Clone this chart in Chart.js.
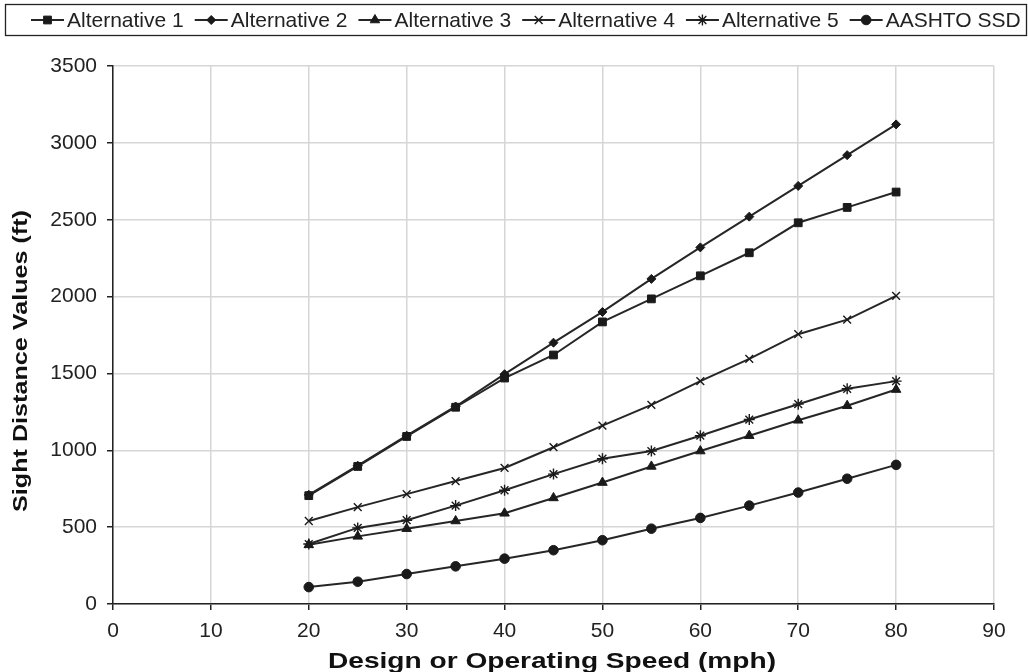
<!DOCTYPE html>
<html>
<head>
<meta charset="utf-8">
<script src="https://cdn.jsdelivr.net/npm/chart.js@4/dist/chart.umd.min.js"></script>
<style>
  html, body { margin: 0; padding: 0; background: #fff; }
  #wrap { width: 1028px; height: 672px; }
</style>
</head>
<body>
<div id="wrap"><canvas id="c" width="1028" height="672"></canvas></div>
<script>
const speeds = [20, 25, 30, 35, 40, 45, 50, 55, 60, 65, 70, 75, 80];
const alternative1 = [705, 895, 1090, 1280, 1470, 1620, 1835, 1985, 2135, 2285, 2480, 2580, 2680];
const alternative2 = [710, 900, 1095, 1285, 1495, 1700, 1900, 2115, 2320, 2520, 2720, 2920, 3120];
const alternative3 = [385, 440, 490, 540, 590, 690, 790, 895, 995, 1095, 1195, 1290, 1395];
const alternative4 = [540, 630, 715, 800, 885, 1020, 1160, 1295, 1450, 1595, 1755, 1850, 2005];
const alternative5 = [390, 495, 545, 640, 740, 845, 945, 995, 1095, 1200, 1300, 1400, 1450];
const aashtoSSD   = [110, 145, 195, 245, 295, 350, 415, 490, 560, 640, 725, 815, 905];
const seriesNames = ['Alternative 1', 'Alternative 2', 'Alternative 3', 'Alternative 4', 'Alternative 5', 'AASHTO SSD'];
const xTicks = [0, 10, 20, 30, 40, 50, 60, 70, 80, 90];
const yTicks = [0, 500, 1000, 1500, 2000, 2500, 3000, 3500];
const xTitle = 'Design or Operating Speed (mph)';
const yTitle = 'Sight Distance Values (ft)';

const FONT = "'Liberation Sans', Arial, Helvetica, sans-serif";
const INK = '#1a1a1a';

const seriesValues = [alternative1, alternative2, alternative3, alternative4, alternative5, aashtoSSD];
const markers = [
  { style: 'rect', radius: 5.5 },
  { style: 'rectRot', radius: 4.5 },
  { style: 'triangle', radius: 5.5 },
  { style: 'crossRot', radius: 5.5 },
  { style: 'star', radius: 5.5 },
  { style: 'circle', radius: 4.8 }
];

const datasets = seriesNames.map((name, i) => ({
  label: name,
  data: speeds.map((s, k) => ({ x: s, y: seriesValues[i][k] })),
  borderColor: '#262626',
  borderWidth: 2,
  backgroundColor: INK,
  pointStyle: markers[i].style,
  pointRadius: markers[i].radius,
  pointHoverRadius: markers[i].radius,
  pointBackgroundColor: INK,
  pointBorderColor: INK,
  pointBorderWidth: (markers[i].style === 'crossRot' || markers[i].style === 'star') ? 1.4 : 1,
  tension: 0,
  fill: false
}));

function stretchedText(ctx, text, cx, cy, rot, font, targetWidth) {
  ctx.save();
  ctx.font = font;
  ctx.textAlign = 'center';
  ctx.textBaseline = 'middle';
  ctx.fillStyle = '#111';
  const w = ctx.measureText(text).width;
  ctx.translate(cx, cy);
  ctx.rotate(rot);
  ctx.scale(targetWidth / w, 1);
  ctx.fillText(text, 0, 0);
  ctx.restore();
}

const legendBox = {
  id: 'legendBox',
  afterDraw(chart) {
    const ctx = chart.ctx;
    ctx.save();
    ctx.strokeStyle = '#222';
    ctx.lineWidth = 1.3;
    ctx.strokeRect(5.5, 4.5, 1021, 31);
    ctx.font = '21px ' + FONT;
    ctx.textBaseline = 'middle';
    ctx.textAlign = 'left';
    let x = 31;
    const cy = 20;
    chart.data.datasets.forEach((ds, i) => {
      ctx.strokeStyle = '#262626';
      ctx.lineWidth = 2;
      ctx.beginPath();
      ctx.moveTo(x, cy);
      ctx.lineTo(x + 33, cy);
      ctx.stroke();
      ctx.fillStyle = INK;
      ctx.strokeStyle = INK;
      ctx.lineWidth = ds.pointBorderWidth;
      Chart.helpers.drawPoint(ctx, { pointStyle: ds.pointStyle, radius: ds.pointRadius, rotation: 0, borderWidth: ds.pointBorderWidth }, x + 16.5, cy);
      ctx.fillStyle = '#222';
      const tx = x + 36;
      ctx.fillText(ds.label, tx, cy + 1);
      x = tx + ctx.measureText(ds.label).width + 11;
    });
    ctx.restore();
    // axis titles
    stretchedText(ctx, yTitle, 21, 361, -Math.PI / 2, 'bold 21px ' + FONT, 302);
    stretchedText(ctx, xTitle, 552, 662, 0, 'bold 22px ' + FONT, 448);
  }
};

new Chart(document.getElementById('c'), {
  type: 'line',
  data: { datasets },
  options: {
    responsive: false,
    animation: false,
    devicePixelRatio: 1,
    layout: { padding: { top: 66, right: 34, left: 0, bottom: 0 } },
    plugins: {
      legend: { display: false },
      tooltip: { enabled: false }
    },
    scales: {
      x: {
        type: 'linear',
        min: 0, max: 90,
        afterBuildTicks(scale) { scale.ticks = xTicks.map(v => ({ value: v })); },
        afterFit(scale) { scale.height = 68; },
        grid: { color: '#d6d6d6', lineWidth: 1.5, tickLength: 6, tickColor: '#222', tickWidth: 1.5 },
        border: { color: '#222', width: 1.5 },
        ticks: { color: '#222', font: { family: FONT, size: 21 }, padding: 9, maxRotation: 0,
                 callback: v => String(v) },
        title: { display: false }
      },
      y: {
        type: 'linear',
        min: 0, max: 3500,
        afterBuildTicks(scale) { scale.ticks = yTicks.map(v => ({ value: v })); },
        afterFit(scale) { scale.width = 113; },
        grid: { color: '#d6d6d6', lineWidth: 1.5, tickLength: 6, tickColor: '#222', tickWidth: 1.5 },
        border: { color: '#222', width: 1.5 },
        ticks: { color: '#222', font: { family: FONT, size: 21 }, padding: 10,
                 callback: v => String(v) },
        title: { display: false }
      }
    }
  },
  plugins: [legendBox]
});
</script>
</body>
</html>
